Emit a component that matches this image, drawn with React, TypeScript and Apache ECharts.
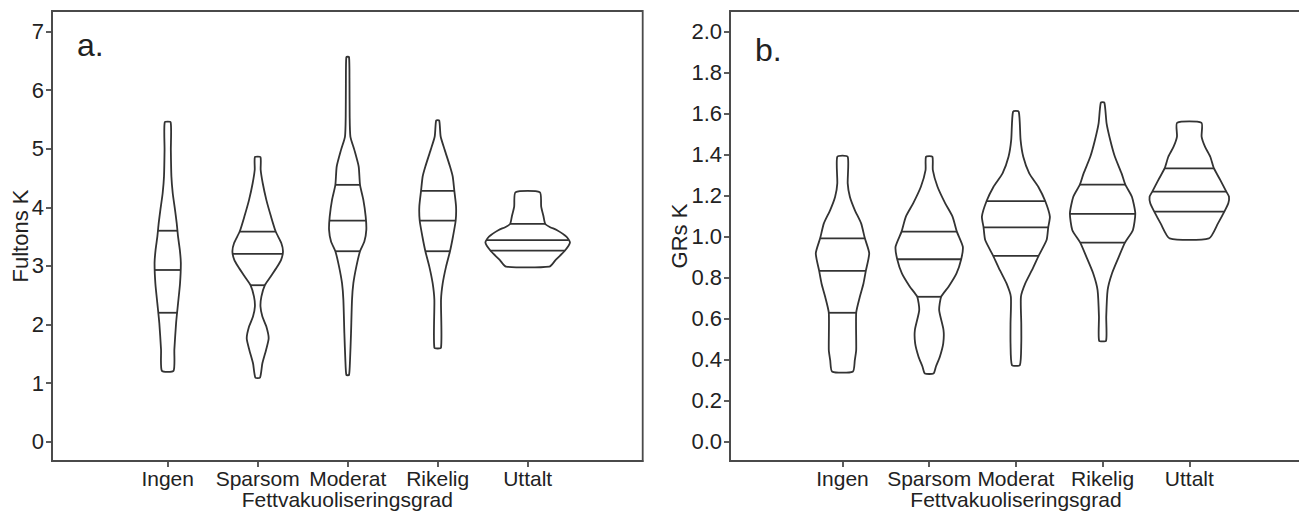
import React, { useEffect, useRef } from "react";
import * as echarts from "echarts";

// ---------- data ----------
const CATEGORIES = ["Ingen", "Sparsom", "Moderat", "Rikelig", "Uttalt"];
const X_TITLE = "Fettvakuoliseringsgrad";

// panel a: Fultons K  -- violin outlines as [value, half-width in category units]
const A_INGEN = [[5.45, 0.033], [4.98, 0.035], [4.53, 0.041], [4.24, 0.056], [3.96, 0.081], [3.73, 0.1], [3.5, 0.115], [3.27, 0.135], [3.05, 0.146], [2.7, 0.137], [2.36, 0.115], [2.02, 0.093], [1.57, 0.074], [1.21, 0.065]];
const A_SPARSOM = [[4.855, 0.031], [4.64, 0.033], [4.41, 0.056], [4.127, 0.096], [3.842, 0.148], [3.586, 0.2], [3.387, 0.263], [3.245, 0.281], [3.102, 0.26], [2.988, 0.218], [2.818, 0.145], [2.67, 0.08], [2.476, 0.041], [2.306, 0.031], [2.135, 0.052], [1.964, 0.096], [1.765, 0.122], [1.566, 0.093], [1.338, 0.052], [1.093, 0.026]];
const A_MODERAT = [[6.563, 0.015], [6.119, 0.02], [5.55, 0.022], [5.208, 0.03], [4.98, 0.074], [4.696, 0.122], [4.383, 0.137], [4.127, 0.174], [3.842, 0.2], [3.615, 0.207], [3.415, 0.185], [3.25, 0.137], [2.988, 0.096], [2.704, 0.063], [2.42, 0.048], [1.85, 0.037], [1.395, 0.026], [1.139, 0.015]];
const A_RIKELIG = [[5.48, 0.017], [5.208, 0.033], [4.98, 0.078], [4.696, 0.137], [4.525, 0.167], [4.28, 0.185], [4.013, 0.204], [3.774, 0.2], [3.501, 0.17], [3.25, 0.137], [2.988, 0.093], [2.704, 0.056], [2.42, 0.037], [1.605, 0.037]];
const A_UTTALT = [[4.258, 0.135], [4.012, 0.15], [3.842, 0.176], [3.717, 0.195], [3.66, 0.25], [3.614, 0.322], [3.5, 0.43], [3.4, 0.47], [3.262, 0.415], [3.102, 0.311], [2.988, 0.241]];
const A_QUARTILES = [[2.2, 2.93, 3.6], [2.67, 3.205, 3.586], [3.25, 3.774, 4.383], [3.25, 3.774, 4.28], [3.262, 3.44, 3.717]];
const A_TICKS = [0, 1, 2, 3, 4, 5, 6, 7];

// panel b: GRs K
const B_INGEN = [[1.39, 0.06], [1.26, 0.06], [1.195, 0.085], [1.13, 0.142], [1.065, 0.215], [0.992, 0.258], [0.919, 0.308], [0.833, 0.269], [0.772, 0.242], [0.707, 0.2], [0.629, 0.158], [0.447, 0.158], [0.398, 0.142], [0.342, 0.119]];
const B_SPARSOM = [[1.39, 0.037], [1.325, 0.042], [1.244, 0.096], [1.163, 0.185], [1.098, 0.269], [1.025, 0.319], [0.951, 0.388], [0.89, 0.369], [0.821, 0.315], [0.756, 0.223], [0.707, 0.138], [0.642, 0.115], [0.545, 0.165], [0.48, 0.162], [0.415, 0.123], [0.366, 0.077], [0.333, 0.05]];
const B_MODERAT = [[1.61, 0.033], [1.472, 0.054], [1.39, 0.085], [1.309, 0.154], [1.244, 0.258], [1.174, 0.338], [1.098, 0.392], [1.046, 0.373], [0.984, 0.354], [0.907, 0.262], [0.837, 0.185], [0.772, 0.108], [0.707, 0.058], [0.577, 0.062], [0.48, 0.062], [0.374, 0.046]];
const B_RIKELIG = [[1.654, 0.021], [1.553, 0.046], [1.472, 0.088], [1.39, 0.142], [1.309, 0.219], [1.254, 0.262], [1.195, 0.338], [1.114, 0.377], [1.033, 0.35], [0.971, 0.258], [0.903, 0.188], [0.821, 0.108], [0.74, 0.058], [0.61, 0.042], [0.493, 0.04]];
const B_UTTALT = [[1.556, 0.14], [1.488, 0.142], [1.439, 0.181], [1.39, 0.242], [1.333, 0.285], [1.276, 0.358], [1.22, 0.427], [1.195, 0.458], [1.163, 0.45], [1.122, 0.404], [1.065, 0.331], [0.992, 0.227]];
const B_QUARTILES = [[0.629, 0.833, 0.992], [0.707, 0.89, 1.025], [0.907, 1.046, 1.174], [0.971, 1.111, 1.254], [1.122, 1.22, 1.333]];
const B_TICKS = [0, 0.2, 0.4, 0.6, 0.8, 1.0, 1.2, 1.4, 1.6, 1.8, 2.0];

const A_PROFILES = [A_INGEN, A_SPARSOM, A_MODERAT, A_RIKELIG, A_UTTALT];
const B_PROFILES = [B_INGEN, B_SPARSOM, B_MODERAT, B_RIKELIG, B_UTTALT];

// ---------- helpers ----------
const FONT = "'Liberation Sans', Arial, Helvetica, sans-serif";
const LINE = "#333333";
const FRAME = "#4a4a4a";
const TEXT = "#222222";

function halfWidthAt(profile: number[][], v: number): number {
  for (let k = 0; k < profile.length - 1; k++) {
    const [v1, h1] = profile[k];
    const [v2, h2] = profile[k + 1];
    if (v <= v1 && v >= v2) {
      const t = (v1 - v) / (v1 - v2);
      return h1 + (h2 - h1) * t;
    }
  }
  return profile[profile.length - 1][1];
}

function makeRenderItem(profiles: number[][][], quartiles: number[][]) {
  return (params: any, api: any) => {
    const i = params.dataIndex;
    const xc = api.value(0);
    const prof = profiles[i];
    const right = prof.map(([v, h]) => api.coord([xc + h, v]));
    const left = prof.slice().reverse().map(([v, h]) => api.coord([xc - h, v]));
    const children: any[] = [
      {
        type: "polygon",
        shape: { points: right.concat(left), smooth: 0.2 },
        style: { fill: "transparent", stroke: LINE, lineWidth: 1.8, lineJoin: "round" },
      },
    ];
    quartiles[i].forEach((q) => {
      const h = halfWidthAt(prof, q);
      const p1 = api.coord([xc - h, q]);
      const p2 = api.coord([xc + h, q]);
      children.push({
        type: "line",
        shape: { x1: p1[0], y1: p1[1], x2: p2[0], y2: p2[1] },
        style: { stroke: LINE, lineWidth: 1.8 },
      });
    });
    return { type: "group", children };
  };
}

function xAxisFor(gridIndex: number, min: number, max: number) {
  return {
    type: "value",
    gridIndex,
    min,
    max,
    splitLine: { show: false },
    axisLine: { show: true, onZero: false, lineStyle: { color: FRAME, width: 1.8 } },
    axisTick: { show: true, length: 6, customValues: [1, 2, 3, 4, 5], lineStyle: { color: FRAME, width: 1.8 } },
    axisLabel: {
      customValues: [1, 2, 3, 4, 5],
      formatter: (v: number) => CATEGORIES[Math.round(v) - 1] || "",
      color: TEXT,
      fontSize: 21,
      lineHeight: 20,
      fontFamily: FONT,
      margin: 7,
    },
    name: X_TITLE,
    nameLocation: "middle",
    nameGap: 28,
    nameMoveOverlap: false,
    nameTextStyle: { color: TEXT, fontSize: 21, lineHeight: 21, fontFamily: FONT },
  };
}

function yAxisFor(gridIndex: number, min: number, max: number, ticks: number[], name: string, nameGap: number, digits: number) {
  return {
    type: "value",
    gridIndex,
    min,
    max,
    splitLine: { show: false },
    axisLine: { show: true, onZero: false, lineStyle: { color: FRAME, width: 1.8 } },
    axisTick: { show: true, length: 6, customValues: ticks, lineStyle: { color: FRAME, width: 1.8 } },
    axisLabel: {
      customValues: ticks,
      formatter: (v: number) => v.toFixed(digits),
      color: TEXT,
      fontSize: 22,
      fontFamily: FONT,
      margin: 8,
    },
    name,
    nameLocation: "middle",
    nameGap,
    nameMoveOverlap: false,
    nameTextStyle: { color: TEXT, fontSize: 22, fontFamily: FONT },
  };
}

export default function App() {
  const ref = useRef<HTMLDivElement>(null);
  useEffect(() => {
    if (!ref.current) return;
    const chart = echarts.init(ref.current, null, { renderer: "svg" });
    const option: any = {
      animation: false,
      backgroundColor: "#ffffff",
      grid: [
        { left: 52, top: 11, width: 590.7, height: 450, show: true, borderColor: FRAME, borderWidth: 1.8, containLabel: false, outerBoundsMode: "none" },
        { left: 730, top: 11, width: 572, height: 450, show: true, borderColor: FRAME, borderWidth: 1.8, containLabel: false, outerBoundsMode: "none" },
      ],
      xAxis: [xAxisFor(0, -0.2856, 6.278), xAxisFor(1, -0.2976, 6.3)],
      yAxis: [
        yAxisFor(0, -0.33, 7.35, A_TICKS, "Fultons K", 21, 0),
        yAxisFor(1, -0.094, 2.101, B_TICKS, "GRs K", 40, 1),
      ],
      graphic: [
        { type: "text", left: 77, top: 29, style: { text: "a.", fontSize: 32, fontFamily: FONT, fill: TEXT } },
        { type: "text", left: 755, top: 34, style: { text: "b.", fontSize: 32, fontFamily: FONT, fill: TEXT } },
      ],
      series: [
        {
          type: "custom",
          xAxisIndex: 0,
          yAxisIndex: 0,
          renderItem: makeRenderItem(A_PROFILES, A_QUARTILES),
          encode: { x: 0, y: 1 },
          data: CATEGORIES.map((_, i) => [i + 1, A_QUARTILES[i][1]]),
          silent: true,
        },
        {
          type: "custom",
          xAxisIndex: 1,
          yAxisIndex: 1,
          renderItem: makeRenderItem(B_PROFILES, B_QUARTILES),
          encode: { x: 0, y: 1 },
          data: CATEGORIES.map((_, i) => [i + 1, B_QUARTILES[i][1]]),
          silent: true,
        },
      ],
    };
    chart.setOption(option);
    return () => chart.dispose();
  }, []);
  return (
    <div
      ref={ref}
      style={{ position: "fixed", left: 0, top: 0, width: 1299, height: 512, background: "#fff" }}
    />
  );
}
